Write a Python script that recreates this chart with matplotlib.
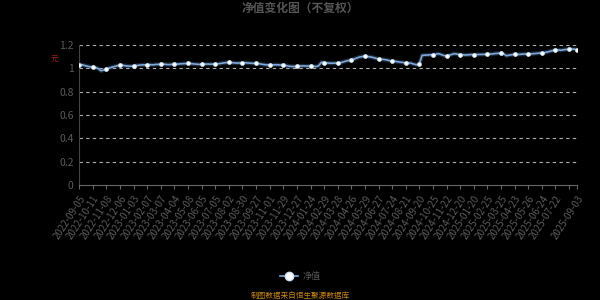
import numpy as np
import matplotlib.pyplot as plt

plt.rcParams['font.family'] = ['Noto Sans CJK SC', 'DejaVu Sans']

# net value series, one value per category (weekly-ish samples)
nav = [
    1.028, 1.031, 1.024, 1.018, 1.013,
    1.011, 1.007, 0.998, 0.979, 0.986,
    0.991, 1.002, 1.010, 1.016, 1.022,
    1.028, 1.026, 1.022, 1.019, 1.018,
    1.020, 1.024, 1.027, 1.029, 1.030,
    1.031, 1.032, 1.030, 1.033, 1.034,
    1.034, 1.036, 1.033, 1.032, 1.034,
    1.034, 1.036, 1.038, 1.040, 1.041,
    1.043, 1.041, 1.038, 1.036, 1.034,
    1.034, 1.035, 1.037, 1.036, 1.036,
    1.037, 1.039, 1.042, 1.046, 1.049,
    1.051, 1.049, 1.047, 1.045, 1.046,
    1.046, 1.048, 1.046, 1.044, 1.043,
    1.043, 1.040, 1.036, 1.032, 1.030,
    1.028, 1.029, 1.031, 1.030, 1.029,
    1.028, 1.024, 1.019, 1.016, 1.016,
    1.017, 1.019, 1.021, 1.020, 1.019,
    1.021, 1.018, 1.015, 1.022, 1.052,
    1.049, 1.047, 1.044, 1.044, 1.045,
    1.045, 1.048, 1.055, 1.062, 1.067,
    1.071, 1.080, 1.090, 1.097, 1.101,
    1.103, 1.101, 1.098, 1.093, 1.086,
    1.080, 1.078, 1.076, 1.072, 1.066,
    1.062, 1.060, 1.057, 1.053, 1.050,
    1.047, 1.046, 1.044, 1.036, 1.031,
    1.040, 1.111, 1.113, 1.114, 1.116,
    1.117, 1.120, 1.126, 1.118, 1.110,
    1.106, 1.112, 1.120, 1.126, 1.121,
    1.117, 1.116, 1.114, 1.116, 1.118,
    1.117, 1.118, 1.119, 1.119, 1.120,
    1.120, 1.122, 1.124, 1.127, 1.129,
    1.131, 1.124, 1.108, 1.113, 1.117,
    1.120, 1.119, 1.120, 1.122, 1.123,
    1.123, 1.124, 1.126, 1.128, 1.130,
    1.131, 1.135, 1.140, 1.146, 1.152,
    1.160, 1.157, 1.155, 1.159, 1.162,
    1.163, 1.166, 1.164,
    1.160,
]

tick_labels = [
    '2022-09-05', '2022-10-11', '2022-11-08', '2022-12-06',
    '2023-01-03', '2023-02-07', '2023-03-07', '2023-04-04', '2023-05-08',
    '2023-06-05', '2023-07-05', '2023-08-02', '2023-08-30', '2023-09-27',
    '2023-11-01', '2023-11-29', '2023-12-27',
    '2024-01-24', '2024-02-29', '2024-03-28', '2024-04-26', '2024-05-29',
    '2024-06-27', '2024-07-24', '2024-08-21', '2024-09-20', '2024-10-25',
    '2024-11-22', '2024-12-20',
    '2025-01-20', '2025-02-25', '2025-03-25', '2025-04-23', '2025-05-26',
    '2025-06-24', '2025-07-22', '2025-09-03',
]

n = len(nav)
x = np.arange(n)
step = 5
tick_pos = list(range(0, n, step)) + [n - 1]
# the tick just before the last one has its label hidden (overlap)
shown = tick_labels[:-1] + [''] + [tick_labels[-1]]
marker_idx = tick_pos

fig = plt.figure(figsize=(6, 3), dpi=100, facecolor='black')
ax = fig.add_axes([0.132, 0.383, 0.830, 0.467])
ax.set_facecolor('black')

line_col = '#7ba7dc'
ax.plot(x, nav, color=line_col, lw=3, alpha=0.25, zorder=2)
ax.plot(x, nav, color=line_col, lw=1.2, zorder=3)
ax.plot(x, nav, ls='none', marker='o', ms=2.8, mfc='white', mec='#cfe2f7',
        mew=0.5, markevery=marker_idx, zorder=4)

ax.set_xlim(0, n - 1)
ax.set_ylim(0, 1.2)
ax.set_yticks([0, 0.2, 0.4, 0.6, 0.8, 1.0, 1.2])
ax.set_yticklabels(['0', '0.2', '0.4', '0.6', '0.8', '1', '1.2'])
for v in [0.2, 0.4, 0.6, 0.8, 1.0, 1.2]:
    ax.axhline(v, color='#b0b0b0', lw=0.8, ls=(0, (3, 3)), zorder=1)

ax.set_xticks(tick_pos)
ax.set_xticklabels(shown, rotation=57, ha='right', va='top',
                   rotation_mode='anchor', fontsize=7, color='#5a5a5a')
ax.tick_params(axis='x', length=3, color='#666666', pad=3)
ax.tick_params(axis='y', length=0, labelsize=7.5, labelcolor='#5a5a5a', pad=4)

for side in ['top', 'right']:
    ax.spines[side].set_visible(False)
ax.spines['bottom'].set_color('#666666')
ax.spines['left'].set_color('#444444')

fig.text(0.5, 0.972, '净值变化图（不复权）', ha='center', va='center',
         fontsize=8.5, fontweight='bold', color='#555555')
fig.text(0.09, 0.80, '元', ha='center', va='center', fontsize=5.5,
         color='#a01c1c')

# legend
fig.add_artist(plt.Line2D([0.467, 0.497], [0.08, 0.08], color=line_col,
                          lw=1.2))
fig.add_artist(plt.Line2D([0.482], [0.08], marker='o', ms=6, mfc='white',
                          mec='#cfe2f7', mew=1))
fig.text(0.505, 0.08, '净值', ha='left', va='center', fontsize=6.5,
         color='#555555')
fig.text(0.5, 0.013, '制图数据来自恒生聚源数据库', ha='center', va='center',
         fontsize=5.5, color='#c8860a')

fig.savefig('out.png', dpi=100, facecolor='black')
